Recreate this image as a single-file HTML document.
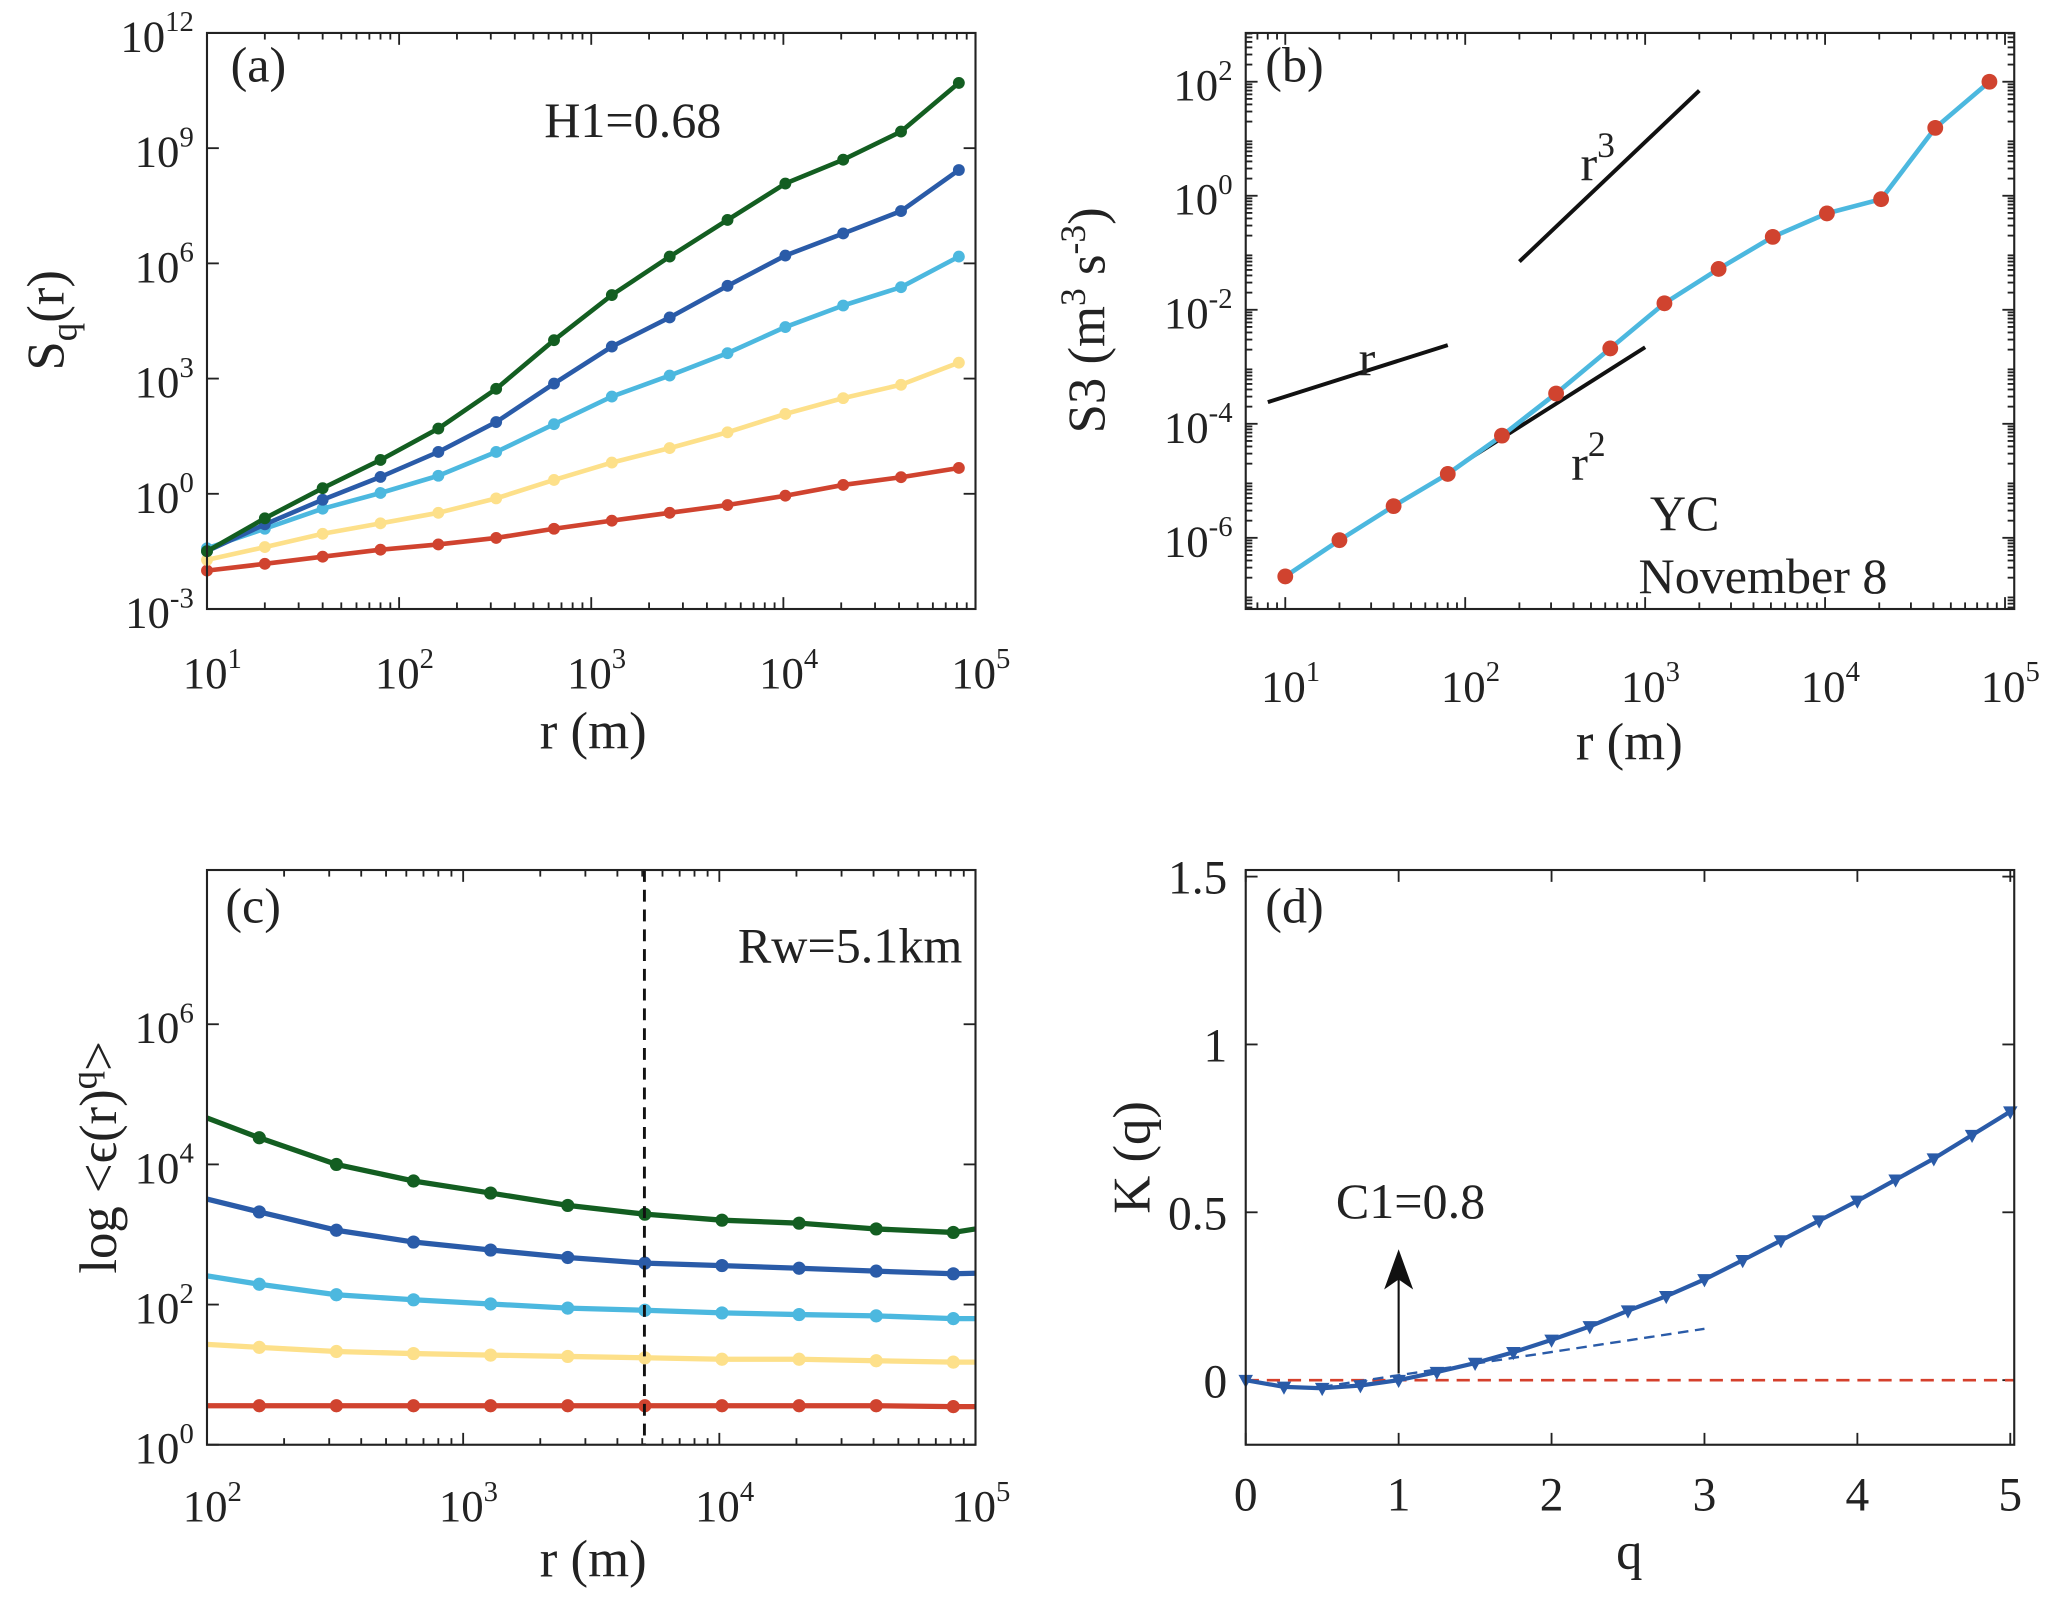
<!DOCTYPE html>
<html><head><meta charset="utf-8"><style>
html,body{margin:0;padding:0;background:#fff;}
svg{display:block;font-family:"Liberation Serif","Times New Roman",serif;}
</style></head><body>
<svg id="fig" width="2067" height="1614" viewBox="0 0 1568 1224.4" xmlns="http://www.w3.org/2000/svg"></svg>
<script>
// ---------- data ----------
const rA = [10,20,40,80,160,320,640,1280,2560,5120,10240,20480,40960,81920];
const aGreen = [3.2e-2,2.3e-1,1.4,7.6,50,540,1e4,1.5e5,1.5e6,1.35e7,1.2e8,5e8,2.7e9,5e10];
const aBlue = [3.2e-2,1.6e-1,7e-1,2.75,12.3,74,740,6.8e3,3.9e4,2.6e5,1.6e6,6e6,2.3e7,2.7e8];
const aCyan = [3.8e-2,1.23e-1,4.1e-1,1.05,2.95,12.3,65,340,1.2e3,4.6e3,2.2e4,8e4,2.4e5,1.5e6];
const aYellow = [1.9e-2,4.1e-2,9.1e-2,1.7e-1,3.2e-1,7.6e-1,2.3,6.5,15.5,40,120,310,690,2.6e3];
const aRed = [1e-2,1.5e-2,2.3e-2,3.5e-2,4.8e-2,7.1e-2,1.23e-1,2e-1,3.2e-1,5.1e-1,8.9e-1,1.7,2.7,4.7];
const rB = [10,20,40,80,160,320,640,1280,2560,5120,10240,20480,40960,81920];
const s3 = [2.1e-7,9.1e-7,3.6e-6,1.32e-5,6.2e-5,3.4e-4,2.1e-3,1.3e-2,5.2e-2,1.9e-1,4.9e-1,8.7e-1,15.5,100];
const rC = [100,160,320,640,1280,2560,5120,10240,20480,40960,81920,100000];
const cGreen = [4.6e4,2.4e4,1e4,5.8e3,3.9e3,2.6e3,1.95e3,1.6e3,1.45e3,1.2e3,1.07e3,1.2e3];
const cBlue = [3.2e3,2.1e3,1.15e3,780,600,470,390,360,330,300,275,280];
const cCyan = [257,195,138,117,102,89,83,76,72,69,63,63];
const cYellow = [27,24.5,21.4,20,19,18.2,17.4,16.6,16.6,15.8,15.1,15.1];
const cRed = [3.6,3.6,3.6,3.6,3.6,3.6,3.6,3.6,3.6,3.6,3.5,3.5];
const qD = [0,0.25,0.5,0.75,1,1.25,1.5,1.75,2,2.25,2.5,2.75,3,3.25,3.5,3.75,4,4.25,4.5,4.75,5];
const kD = [0,-0.02,-0.024,-0.016,0,0.024,0.051,0.083,0.12,0.16,0.207,0.25,0.30,0.357,0.416,0.475,0.534,0.597,0.66,0.73,0.80];
const aTicksY = [-3,0,3,6,9,12];
const logTicksX = [1,2,3,4,5];
const bTicksY = [-6,-4,-2,0,2];
const cTicksX = [2,3,4,5];
const cTicksY = [0,2,4,6];
const dTicksX = [0,1,2,3,4,5];
const dTicksY = ["0","0.5","1","1.5"];

const NS="http://www.w3.org/2000/svg";
const svg=document.getElementById('fig');
const TF=34;
function mk(tag,attrs,parent){const e=document.createElementNS(NS,tag);for(const k in attrs)e.setAttribute(k,attrs[k]);(parent||svg).appendChild(e);return e;}
function grp(name){const g=mk('g',{});return g;}
function logScale(d0,d1,p0,p1){return v=>p0+(Math.log10(v)-d0)/(d1-d0)*(p1-p0);}
function linScale(d0,d1,p0,p1){return v=>p0+(v-d0)/(d1-d0)*(p1-p0);}
function pow10(g,x,y,exp,size,anchor,name){
  const t=mk('text',{x:x,y:y,'font-size':size,'text-anchor':anchor,fill:'#222'},g);
  
  
  const a=mk('tspan',{},t);a.textContent='10';
  const b=mk('tspan',{dy:-size*0.45,'font-size':size*0.64},t);b.textContent=String(exp);
  return t;
}
function box(g,x0,y0,x1,y1){
  const r=mk('rect',{x:x0,y:y0,width:x1-x0,height:y1-y0,fill:'none',stroke:'#222','stroke-width':1.6},g);
  
  
}
function tickX(g,x,y0,y1,len){mk('line',{x1:x,x2:x,y1:y1,y2:y1-len,stroke:'#222','stroke-width':1.4},g);mk('line',{x1:x,x2:x,y1:y0,y2:y0+len,stroke:'#222','stroke-width':1.4},g);}
function tickY(g,y,x0,x1,len){mk('line',{x1:x0,x2:x0+len,y1:y,y2:y,stroke:'#222','stroke-width':1.4},g);mk('line',{x1:x1,x2:x1-len,y1:y,y2:y,stroke:'#222','stroke-width':1.4},g);}
function minorLogX(g,sx,d0,d1,y0,y1){for(let d=Math.floor(d0);d<d1;d++)for(let m=2;m<10;m++){const v=Math.pow(10,d)*m;const l=Math.log10(v);if(l>d0&&l<d1)tickX(g,sx(v),y0,y1,5);}}
function minorLogY(g,sy,d0,d1,x0,x1){for(let d=Math.floor(d0);d<d1;d++)for(let m=2;m<10;m++){const v=Math.pow(10,d)*m;const l=Math.log10(v);if(l>d0&&l<d1)tickY(g,sy(v),x0,x1,5);}}
function series(g,xs,ys,sx,sy,color,name,w,mr,markerIdx){
  const pts=xs.map((x,i)=>sx(x).toFixed(2)+','+sy(ys[i]).toFixed(2)).join(' ');
  const p=mk('polyline',{points:pts,fill:'none',stroke:color,'stroke-width':w,'stroke-linejoin':'round'},g);
  
  
  xs.forEach((x,i)=>{if(markerIdx&&!markerIdx(i))return;
    const c=mk('circle',{cx:sx(x),cy:sy(ys[i]),r:mr,fill:color},g);
    
    });
}
function label(g,x,y,txt,size,name,anchor,rot){
  const t=mk('text',{x:x,y:y,'font-size':size,'text-anchor':anchor||'middle',fill:'#222'},g);
  if(rot)t.setAttribute('transform','rotate(-90 '+x+' '+y+')');
  
  
  t.textContent=txt;return t;
}
const GREEN='#135e21',BLUE='#2a5ba8',CYAN='#4cb8df',YEL='#fde08a',RED='#d0432f';

// ---------- panel a ----------
(function(){
  const g=grp('panel-a');
  const X0=157,X1=740,Y0=25,Y1=462;
  const sx=logScale(1,5,X0,X1), sy=logScale(-3,12,Y1,Y0);
  minorLogX(g,sx,1,5,Y0,Y1);
  logTicksX.forEach(e=>{tickX(g,sx(Math.pow(10,e)),Y0,Y1,9);pow10(g,sx(Math.pow(10,e))+4,522,e,TF,'middle','x-tick-label');});
  aTicksY.forEach(e=>{tickY(g,sy(Math.pow(10,e)),X0,X1,9);pow10(g,X0-10,sy(Math.pow(10,e))+14,e,TF,'end','y-tick-label');});
  series(g,rA,aRed,sx,sy,RED,'series-q1',3.5,4.5);
  series(g,rA,aYellow,sx,sy,YEL,'series-q2',3.5,4.5);
  series(g,rA,aCyan,sx,sy,CYAN,'series-q3',3.5,4.5);
  series(g,rA,aBlue,sx,sy,BLUE,'series-q4',3.5,4.5);
  series(g,rA,aGreen,sx,sy,GREEN,'series-q5',3.5,4.5);
  box(g,X0,Y0,X1,Y1);
  label(g,196,62,'(a)',38,'panel-label-a');
  label(g,480,104,'H1=0.68',38,'annotation-h1');
  label(g,450,568,'r (m)',40,'x-axis-title');
  const t=mk('text',{x:48,y:243,'font-size':40,'text-anchor':'middle',fill:'#222',transform:'rotate(-90 48 243)'},g);
  
  
  t.innerHTML='S<tspan dy="10" font-size="28">q</tspan><tspan dy="-10">(r)</tspan>';
})();

// ---------- panel b ----------
(function(){
  const g=grp('panel-b');
  const X0=945,X1=1528,Y0=25,Y1=462;
  const sx=logScale(1,5,975,1521), sy=logScale(-6,2,408,62);
  const xd0=1+(X0-975)/136.5, xd1=5+(X1-1521)/136.5;
  const yd0=-6-(Y1-408)/43.25, yd1=2+(62-Y0)/43.25;
  minorLogX(g,sx,xd0,xd1,Y0,Y1);
  minorLogY(g,sy,yd0,yd1,X0,X1);
  logTicksX.forEach(e=>{tickX(g,sx(Math.pow(10,e)),Y0,Y1,9);pow10(g,sx(Math.pow(10,e))+4,532,e,TF,'middle','x-tick-label');});
  bTicksY.forEach(e=>{tickY(g,sy(Math.pow(10,e)),X0,X1,9);pow10(g,X0-10,sy(Math.pow(10,e))+14,e,TF,'end','y-tick-label');});
  function ref(x0,x1,y0,slope,name){const l=mk('line',{x1:sx(x0),y1:sy(y0),x2:sx(x1),y2:sy(y0*Math.pow(x1/x0,slope)),stroke:'#111','stroke-width':3},g);}
  ref(8,80,2.4e-4,1,'reference-line-r');
  ref(100,1000,2.2e-5,2,'reference-line-r2');
  ref(200,2000,7e-2,3,'reference-line-r3');
  series(g,rB,s3,sx,sy,CYAN,'s3-series',3.5,6);
  g.querySelectorAll('circle').forEach(c=>c.setAttribute('fill',RED));
  box(g,X0,Y0,X1,Y1);
  label(g,982,62,'(b)',38,'panel-label-b');
  label(g,1037,285,'r',38,'label-r');
  const r3=label(g,1212,137,'r',38,'label-r3');const s=mk('tspan',{dy:-18,'font-size':27},r3);s.textContent='3';
  const r2=label(g,1205,364,'r',38,'label-r2');const s2=mk('tspan',{dy:-18,'font-size':27},r2);s2.textContent='2';
  label(g,1278,402,'YC',38,'annotation-yc');
  label(g,1243,450,'November 8',38,'annotation-date','start');
  label(g,1236,576,'r (m)',40,'x-axis-title');
  const t=mk('text',{x:838,y:243,'font-size':40,'text-anchor':'middle',fill:'#222',transform:'rotate(-90 838 243)'},g);
  
  
  t.innerHTML='S3 (m<tspan dy="-15" font-size="27">3</tspan><tspan dy="15"> s</tspan><tspan dy="-15" font-size="27">-3</tspan><tspan dy="15">)</tspan>';
})();

// ---------- panel c ----------
(function(){
  const g=grp('panel-c');
  const X0=157,X1=740,Y0=660,Y1=1096;
  const sx=logScale(2,5,X0,X1), sy=logScale(0,6,Y1,777);
  minorLogX(g,sx,2,5,Y0,Y1);
  cTicksX.forEach(e=>{tickX(g,sx(Math.pow(10,e)),Y0,Y1,9);pow10(g,sx(Math.pow(10,e))+4,1154,e,TF,'middle','x-tick-label');});
  cTicksY.forEach(e=>{tickY(g,sy(Math.pow(10,e)),X0,X1,9);pow10(g,X0-10,sy(Math.pow(10,e))+14,e,TF,'end','y-tick-label');});
  const mid=i=>i>0&&i<rC.length-1;
  series(g,rC,cRed,sx,sy,RED,'series-q1',4,5,mid);
  series(g,rC,cYellow,sx,sy,YEL,'series-q2',4,5,mid);
  series(g,rC,cCyan,sx,sy,CYAN,'series-q3',4,5,mid);
  series(g,rC,cBlue,sx,sy,BLUE,'series-q4',4,5,mid);
  series(g,rC,cGreen,sx,sy,GREEN,'series-q5',4,5,mid);
  const v=mk('line',{x1:sx(5100),x2:sx(5100),y1:Y0,y2:Y1,stroke:'#111','stroke-width':2.2,'stroke-dasharray':'9,6'},g);
  
  
  box(g,X0,Y0,X1,Y1);
  label(g,192,700,'(c)',38,'panel-label-c');
  label(g,730,730,'Rw=5.1km',38,'annotation-rw','end');
  label(g,450,1196,'r (m)',40,'x-axis-title');
  const t=mk('text',{x:88,y:878,'font-size':40,'text-anchor':'middle',fill:'#222',transform:'rotate(-90 88 878)'},g);
  
  
  t.innerHTML='log &lt;ϵ(r)<tspan dy="-15" font-size="28">q</tspan><tspan dy="15">&gt;</tspan>';
})();

// ---------- panel d ----------
(function(){
  const g=grp('panel-d');
  const X0=945,X1=1528,Y0=660,Y1=1096;
  const sx=linScale(0,5,X0,1525), sy=linScale(0,1.5,1047,665);
  dTicksX.forEach(v=>{tickX(g,sx(v),Y0,Y1,9);label(g,sx(v),1146,String(v),36,'x-tick-label');});
  dTicksY.forEach(v=>{tickY(g,sy(parseFloat(v)),X0,X1,9);label(g,X0-14,sy(parseFloat(v))+13,v,36,'y-tick-label','end');});
  const z=mk('line',{x1:X0,x2:X1,y1:sy(0),y2:sy(0),stroke:'#d5402c','stroke-width':2,'stroke-dasharray':'10,6'},g);
  
  
  const tg=mk('line',{x1:sx(0.5),y1:sy(-0.02),x2:sx(3),y2:sy(0.153),stroke:BLUE,'stroke-width':1.8,'stroke-dasharray':'8,5'},g);
  
  
  const pts=qD.map((q,i)=>sx(q).toFixed(2)+','+sy(kD[i]).toFixed(2)).join(' ');
  const p=mk('polyline',{points:pts,fill:'none',stroke:BLUE,'stroke-width':3.2},g);
  
  
  qD.forEach((q,i)=>{const x=sx(q),y=sy(kD[i]);
    const m=mk('polygon',{points:(x-5.5)+','+(y-4)+' '+(x+5.5)+','+(y-4)+' '+x+','+(y+6),fill:BLUE},g);
    
    });
  const a=mk('line',{x1:sx(1),x2:sx(1),y1:sy(0.02),y2:sy(0.31),stroke:'#111','stroke-width':1.6},g);
  
  
  const ah=mk('polygon',{points:sx(1)+','+sy(0.39)+' '+(sx(1)-11)+','+sy(0.27)+' '+sx(1)+','+sy(0.30)+' '+(sx(1)+11)+','+sy(0.27),fill:'#111'},g);
  
  
  box(g,X0,Y0,X1,Y1);
  label(g,982,700,'(d)',38,'panel-label-d');
  label(g,1070,924,'C1=0.8',38,'annotation-c1');
  label(g,1236,1190,'q',40,'x-axis-title');
  label(g,872,878,'K (q)',40,'y-axis-title','middle',true);
})();
</script>
</body></html>
